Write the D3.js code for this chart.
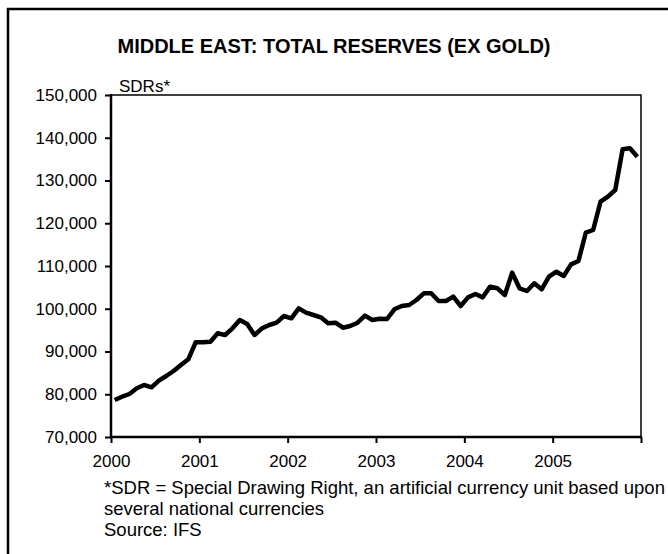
<!DOCTYPE html>
<html>
<head>
<meta charset="utf-8">
<script src="https://cdn.jsdelivr.net/npm/d3@7"></script>
<style>
  body { margin: 0; background: #fff; }
  svg text { font-family: Arial, "Liberation Sans", sans-serif; fill: #000; }
</style>
</head>
<body>
<div id="chart"></div>
<script>
// monthly reserves, Jan 2000 .. Dec 2005 (SDR millions)
var years = [2000, 2001, 2002, 2003, 2004, 2005];
var yTicks = [70000, 80000, 90000, 100000, 110000, 120000, 130000, 140000, 150000];
var reserves2000 = [78650, 79430, 80060, 81400, 82160, 81620, 83170, 84270, 85440, 86840, 88170, 92150];
var reserves2001 = [92150, 92300, 94260, 93860, 95420, 97370, 96430, 93860, 95420, 96200, 96740, 98300];
var reserves2002 = [97760, 100100, 99080, 98540, 98000, 96600, 96740, 95570, 95960, 96740, 98380, 97370];
var reserves2003 = [97680, 97600, 99870, 100640, 100880, 102050, 103610, 103610, 101810, 101810, 102830, 100640];
var reserves2004 = [102670, 103450, 102670, 105170, 104780, 103220, 108440, 104780, 104150, 105950, 104550, 107500];
var reserves2005 = [108670, 107660, 110390, 111170, 117790, 118420, 125040, 126220, 127780, 137290, 137520, 135570];

var values = [].concat(reserves2000, reserves2001, reserves2002, reserves2003, reserves2004, reserves2005);

var width = 668, height = 554;
var plotLeft = 111, plotRight = 641, plotTop = 95, plotBottom = 437;

var svg = d3.select("#chart")
  .append("svg")
  .attr("width", width)
  .attr("height", height);

// outer frame (runs off the right and bottom edges)
svg.append("rect")
  .attr("x", 8).attr("y", 9)
  .attr("width", 720).attr("height", 620)
  .attr("fill", "none")
  .attr("stroke", "#000")
  .attr("stroke-width", 2.5);

var x = d3.scaleLinear().domain([2000, 2006]).range([plotLeft, plotRight]);
var y = d3.scaleLinear().domain([70000, 150000]).range([plotBottom, plotTop]);

// plot area top/right border
svg.append("path")
  .attr("d", "M" + plotLeft + "," + plotTop + "H" + plotRight + "V" + plotBottom)
  .attr("fill", "none")
  .attr("stroke", "#000")
  .attr("stroke-width", 1.5);

var yAxis = svg.append("g")
  .attr("transform", "translate(" + plotLeft + ",0)")
  .call(d3.axisLeft(y).tickValues(yTicks).tickSize(6).tickPadding(8)
    .tickFormat(d3.format(",")));

var xAxis = svg.append("g")
  .attr("transform", "translate(0," + plotBottom + ")")
  .call(d3.axisBottom(x).tickValues(years.concat([2006])).tickSize(6).tickPadding(12)
    .tickFormat(function (d) { return d < 2006 ? d : ""; }));

[yAxis, xAxis].forEach(function (g) {
  g.select(".domain").attr("stroke", "#000").attr("stroke-width", 2.5);
  g.selectAll(".tick line").attr("stroke", "#000").attr("stroke-width", 2);
  g.selectAll(".tick text").style("font-size", "17px").attr("fill", "#000");
});
yAxis.select(".domain").attr("d", "M0," + (plotTop - 1) + "V" + (plotBottom + 1));
xAxis.select(".domain").attr("d", "M" + (plotLeft - 1) + ",0H" + (plotRight + 1));

// the series
var line = d3.line()
  .x(function (d, i) { return x(2000 + (i + 0.5) / 12); })
  .y(function (d) { return y(d); });

svg.append("path")
  .datum(values)
  .attr("d", line)
  .attr("fill", "none")
  .attr("stroke", "#000")
  .attr("stroke-width", 4.5)
  .attr("stroke-linejoin", "round");

// titles and notes
svg.append("text")
  .attr("x", 334).attr("y", 53)
  .attr("text-anchor", "middle")
  .style("font-size", "20px")
  .style("font-weight", "bold")
  .text("MIDDLE EAST: TOTAL RESERVES (EX GOLD)");

svg.append("text")
  .attr("x", 119).attr("y", 92)
  .style("font-size", "17px")
  .text("SDRs*");

var notes = [
  "*SDR = Special Drawing Right, an artificial currency unit based upon",
  "several national currencies",
  "Source: IFS"
];
svg.selectAll(".note")
  .data(notes)
  .join("text")
  .attr("class", "note")
  .attr("x", 104)
  .attr("y", function (d, i) { return 494 + i * 21; })
  .style("font-size", "18.5px")
  .text(function (d) { return d; });
</script>
</body>
</html>
